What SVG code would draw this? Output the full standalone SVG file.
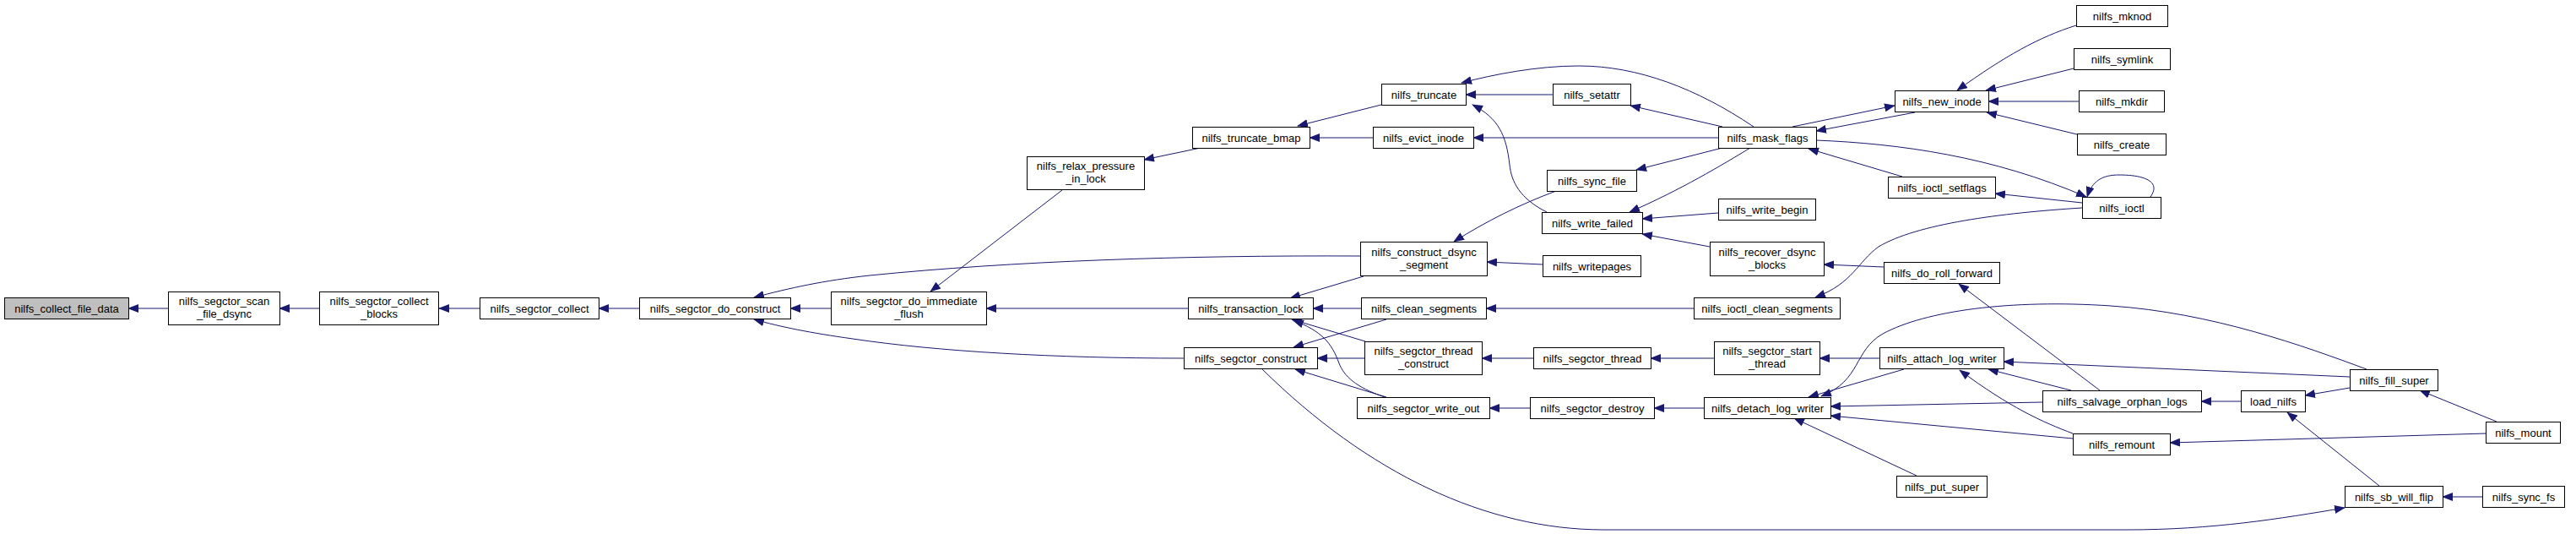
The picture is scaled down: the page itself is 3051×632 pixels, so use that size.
<svg xmlns="http://www.w3.org/2000/svg" width="3051" height="632" viewBox="0 0 3051 632">
<style>
rect{fill:#fff;stroke:#000;stroke-width:1}
#n0 rect{fill:#bfbfbf}
text{font-family:"Liberation Sans",Arial,sans-serif;font-size:13px;text-anchor:middle;fill:#000}
#edges path{fill:none;stroke:#191970;stroke-width:1;marker-end:url(#a)}
</style>
<defs>
<marker id="a" viewBox="0 0 13 10" refX="12" refY="5" markerWidth="13" markerHeight="10" markerUnits="userSpaceOnUse" orient="auto"><path d="M0,0L13,5L0,10z" fill="#191970"/></marker>
</defs>
<rect x="0" y="0" width="3051" height="632" style="fill:#fff;stroke:none"/>
<g id="edges">
<path d="M199,365L152,365"/>
<path d="M378,365L331,365"/>
<path d="M568,365L520,365"/>
<path d="M757,365L709,365"/>
<path d="M984,365L936,365"/>
<path d="M1611,303C1400,302 1200,309 1030,326C975,332 935,341 893,352"/>
<path d="M1402,424C1250,424 1110,416 1010,401C960,394 925,387 893,378"/>
<path d="M1407,365L1168,365"/>
<path d="M1258,225L1102,345"/>
<path d="M1422,175L1355,189"/>
<path d="M1636,124L1537,149"/>
<path d="M1626,163L1551,163"/>
<path d="M1839,112L1736,112"/>
<path d="M2077,150C2010,105 1940,78 1870,78C1820,78 1770,88 1731,98"/>
<path d="M1832,251C1800,235 1790,215 1788,195C1784,160 1775,140 1744,124"/>
<path d="M2040,150L1931,125"/>
<path d="M2035,163L1745,163"/>
<path d="M2040,175L1938,201"/>
<path d="M2073,175C2040,195 1990,225 1930,251"/>
<path d="M2035,252L1945,259"/>
<path d="M2025,292L1945,277"/>
<path d="M1827,313L1761,310"/>
<path d="M1843,226C1800,242 1760,262 1722,286"/>
<path d="M1615,327L1528,353"/>
<path d="M1612,365L1555,365"/>
<path d="M1617,404L1530,378"/>
<path d="M1640,470C1605,458 1592,445 1586,430C1577,405 1565,392 1532,379"/>
<path d="M1642,378L1532,411"/>
<path d="M1616,424L1560,424"/>
<path d="M1642,470L1534,437"/>
<path d="M1495,437C1620,560 1760,627 1900,627L2520,627C2620,627 2700,614 2777,601"/>
<path d="M1816,424L1755,424"/>
<path d="M1812,483L1764,483"/>
<path d="M2006,365L1760,365"/>
<path d="M2030,424L1955,424"/>
<path d="M2018,483L1959,483"/>
<path d="M2466,246C2370,252 2270,265 2225,292C2200,310 2195,335 2150,352"/>
<path d="M2231,316L2160,313"/>
<path d="M2226,424L2155,424"/>
<path d="M2255,437L2142,470"/>
<path d="M2803,437C2730,410 2620,370 2500,362C2380,354 2280,368 2230,395C2195,415 2205,450 2157,469"/>
<path d="M2419,476L2168,481"/>
<path d="M2455,519L2168,492"/>
<path d="M2270,563L2125,495"/>
<path d="M2783,446L2373,428"/>
<path d="M2453,462L2355,437"/>
<path d="M2455,513C2420,500 2380,482 2321,438"/>
<path d="M2487,462L2320,336"/>
<path d="M2654,475L2607,475"/>
<path d="M2783,459L2730,468"/>
<path d="M2944,513L2570,524"/>
<path d="M2957,499L2866,462"/>
<path d="M2818,575L2709,488"/>
<path d="M2940,588L2893,588"/>
<path d="M2459,30C2415,44 2375,66 2318,107"/>
<path d="M2456,81L2352,107"/>
<path d="M2462,120L2355,120"/>
<path d="M2460,159L2353,133"/>
<path d="M2123,150L2244,125"/>
<path d="M2268,133L2151,155"/>
<path d="M2151,166C2250,170 2360,185 2471,233"/>
<path d="M2253,209L2142,176"/>
<path d="M2466,240L2363,229"/>
<path d="M2547,233C2560,215 2540,207 2510,207C2490,207 2478,214 2472,233"/>
</g>
<g id="n0"><rect x="5.5" y="352.5" width="147" height="25"/><text x="79" y="369.5">nilfs_collect_file_data</text></g>
<g id="n1"><rect x="199.5" y="345.5" width="132" height="39"/><text x="265.5" y="361">nilfs_segctor_scan</text><text x="265.5" y="376">_file_dsync</text></g>
<g id="n2"><rect x="378.5" y="345.5" width="141" height="39"/><text x="449" y="361">nilfs_segctor_collect</text><text x="449" y="376">_blocks</text></g>
<g id="n3"><rect x="568.5" y="352.5" width="141" height="25"/><text x="639" y="369.5">nilfs_segctor_collect</text></g>
<g id="n4"><rect x="757.5" y="352.5" width="179" height="25"/><text x="847" y="369.5">nilfs_segctor_do_construct</text></g>
<g id="n5"><rect x="984.5" y="345.5" width="184" height="39"/><text x="1076.5" y="361">nilfs_segctor_do_immediate</text><text x="1076.5" y="376">_flush</text></g>
<g id="n6"><rect x="1216.5" y="185.5" width="139" height="39"/><text x="1286" y="201">nilfs_relax_pressure</text><text x="1286" y="216">_in_lock</text></g>
<g id="n7"><rect x="1412.5" y="150.5" width="139" height="25"/><text x="1482" y="167.5">nilfs_truncate_bmap</text></g>
<g id="n8"><rect x="1407.5" y="352.5" width="148" height="25"/><text x="1481.5" y="369.5">nilfs_transaction_lock</text></g>
<g id="n9"><rect x="1402.5" y="411.5" width="158" height="25"/><text x="1481.5" y="428.5">nilfs_segctor_construct</text></g>
<g id="n10"><rect x="1636.5" y="99.5" width="100" height="25"/><text x="1686.5" y="116.5">nilfs_truncate</text></g>
<g id="n11"><rect x="1839.5" y="99.5" width="92" height="25"/><text x="1885.5" y="116.5">nilfs_setattr</text></g>
<g id="n12"><rect x="1626.5" y="150.5" width="119" height="25"/><text x="1686" y="167.5">nilfs_evict_inode</text></g>
<g id="n13"><rect x="1832.5" y="201.5" width="106" height="25"/><text x="1885.5" y="218.5">nilfs_sync_file</text></g>
<g id="n14"><rect x="1826.5" y="251.5" width="119" height="25"/><text x="1886" y="268.5">nilfs_write_failed</text></g>
<g id="n15"><rect x="1611.5" y="286.5" width="150" height="40"/><text x="1686.5" y="302.5">nilfs_construct_dsync</text><text x="1686.5" y="317.5">_segment</text></g>
<g id="n16"><rect x="1827.5" y="302.5" width="116" height="25"/><text x="1885.5" y="319.5">nilfs_writepages</text></g>
<g id="n17"><rect x="1612.5" y="352.5" width="148" height="25"/><text x="1686.5" y="369.5">nilfs_clean_segments</text></g>
<g id="n18"><rect x="1616.5" y="404.5" width="139" height="39"/><text x="1686" y="420">nilfs_segctor_thread</text><text x="1686" y="435">_construct</text></g>
<g id="n19"><rect x="1816.5" y="411.5" width="139" height="25"/><text x="1886" y="428.5">nilfs_segctor_thread</text></g>
<g id="n20"><rect x="1607.5" y="470.5" width="157" height="25"/><text x="1686" y="487.5">nilfs_segctor_write_out</text></g>
<g id="n21"><rect x="1812.5" y="470.5" width="147" height="25"/><text x="1886" y="487.5">nilfs_segctor_destroy</text></g>
<g id="n22"><rect x="2035.5" y="150.5" width="116" height="25"/><text x="2093.5" y="167.5">nilfs_mask_flags</text></g>
<g id="n23"><rect x="2244.5" y="107.5" width="111" height="25"/><text x="2300" y="124.5">nilfs_new_inode</text></g>
<g id="n24"><rect x="2459.5" y="6.5" width="108" height="25"/><text x="2513.5" y="23.5">nilfs_mknod</text></g>
<g id="n25"><rect x="2456.5" y="57.5" width="114" height="25"/><text x="2513.5" y="74.5">nilfs_symlink</text></g>
<g id="n26"><rect x="2462.5" y="107.5" width="101" height="25"/><text x="2513" y="124.5">nilfs_mkdir</text></g>
<g id="n27"><rect x="2460.5" y="158.5" width="105" height="25"/><text x="2513" y="175.5">nilfs_create</text></g>
<g id="n28"><rect x="2236.5" y="209.5" width="127" height="25"/><text x="2300" y="226.5">nilfs_ioctl_setflags</text></g>
<g id="n29"><rect x="2466.5" y="233.5" width="93" height="25"/><text x="2513" y="250.5">nilfs_ioctl</text></g>
<g id="n30"><rect x="2035.5" y="235.5" width="115" height="25"/><text x="2093" y="252.5">nilfs_write_begin</text></g>
<g id="n31"><rect x="2025.5" y="286.5" width="135" height="40"/><text x="2093" y="302.5">nilfs_recover_dsync</text><text x="2093" y="317.5">_blocks</text></g>
<g id="n32"><rect x="2231.5" y="310.5" width="137" height="25"/><text x="2300" y="327.5">nilfs_do_roll_forward</text></g>
<g id="n33"><rect x="2006.5" y="352.5" width="173" height="25"/><text x="2093" y="369.5">nilfs_ioctl_clean_segments</text></g>
<g id="n34"><rect x="2030.5" y="404.5" width="125" height="39"/><text x="2093" y="420">nilfs_segctor_start</text><text x="2093" y="435">_thread</text></g>
<g id="n35"><rect x="2226.5" y="411.5" width="147" height="25"/><text x="2300" y="428.5">nilfs_attach_log_writer</text></g>
<g id="n36"><rect x="2018.5" y="470.5" width="150" height="25"/><text x="2093.5" y="487.5">nilfs_detach_log_writer</text></g>
<g id="n37"><rect x="2419.5" y="462.5" width="188" height="25"/><text x="2513.5" y="479.5">nilfs_salvage_orphan_logs</text></g>
<g id="n38"><rect x="2455.5" y="513.5" width="115" height="25"/><text x="2513" y="530.5">nilfs_remount</text></g>
<g id="n39"><rect x="2246.5" y="563.5" width="107" height="25"/><text x="2300" y="580.5">nilfs_put_super</text></g>
<g id="n40"><rect x="2783.5" y="437.5" width="104" height="25"/><text x="2835.5" y="454.5">nilfs_fill_super</text></g>
<g id="n41"><rect x="2654.5" y="462.5" width="76" height="25"/><text x="2692.5" y="479.5">load_nilfs</text></g>
<g id="n42"><rect x="2944.5" y="499.5" width="88" height="25"/><text x="2988.5" y="516.5">nilfs_mount</text></g>
<g id="n43"><rect x="2777.5" y="575.5" width="116" height="25"/><text x="2835.5" y="592.5">nilfs_sb_will_flip</text></g>
<g id="n44"><rect x="2940.5" y="575.5" width="97" height="25"/><text x="2989" y="592.5">nilfs_sync_fs</text></g>
</svg>
